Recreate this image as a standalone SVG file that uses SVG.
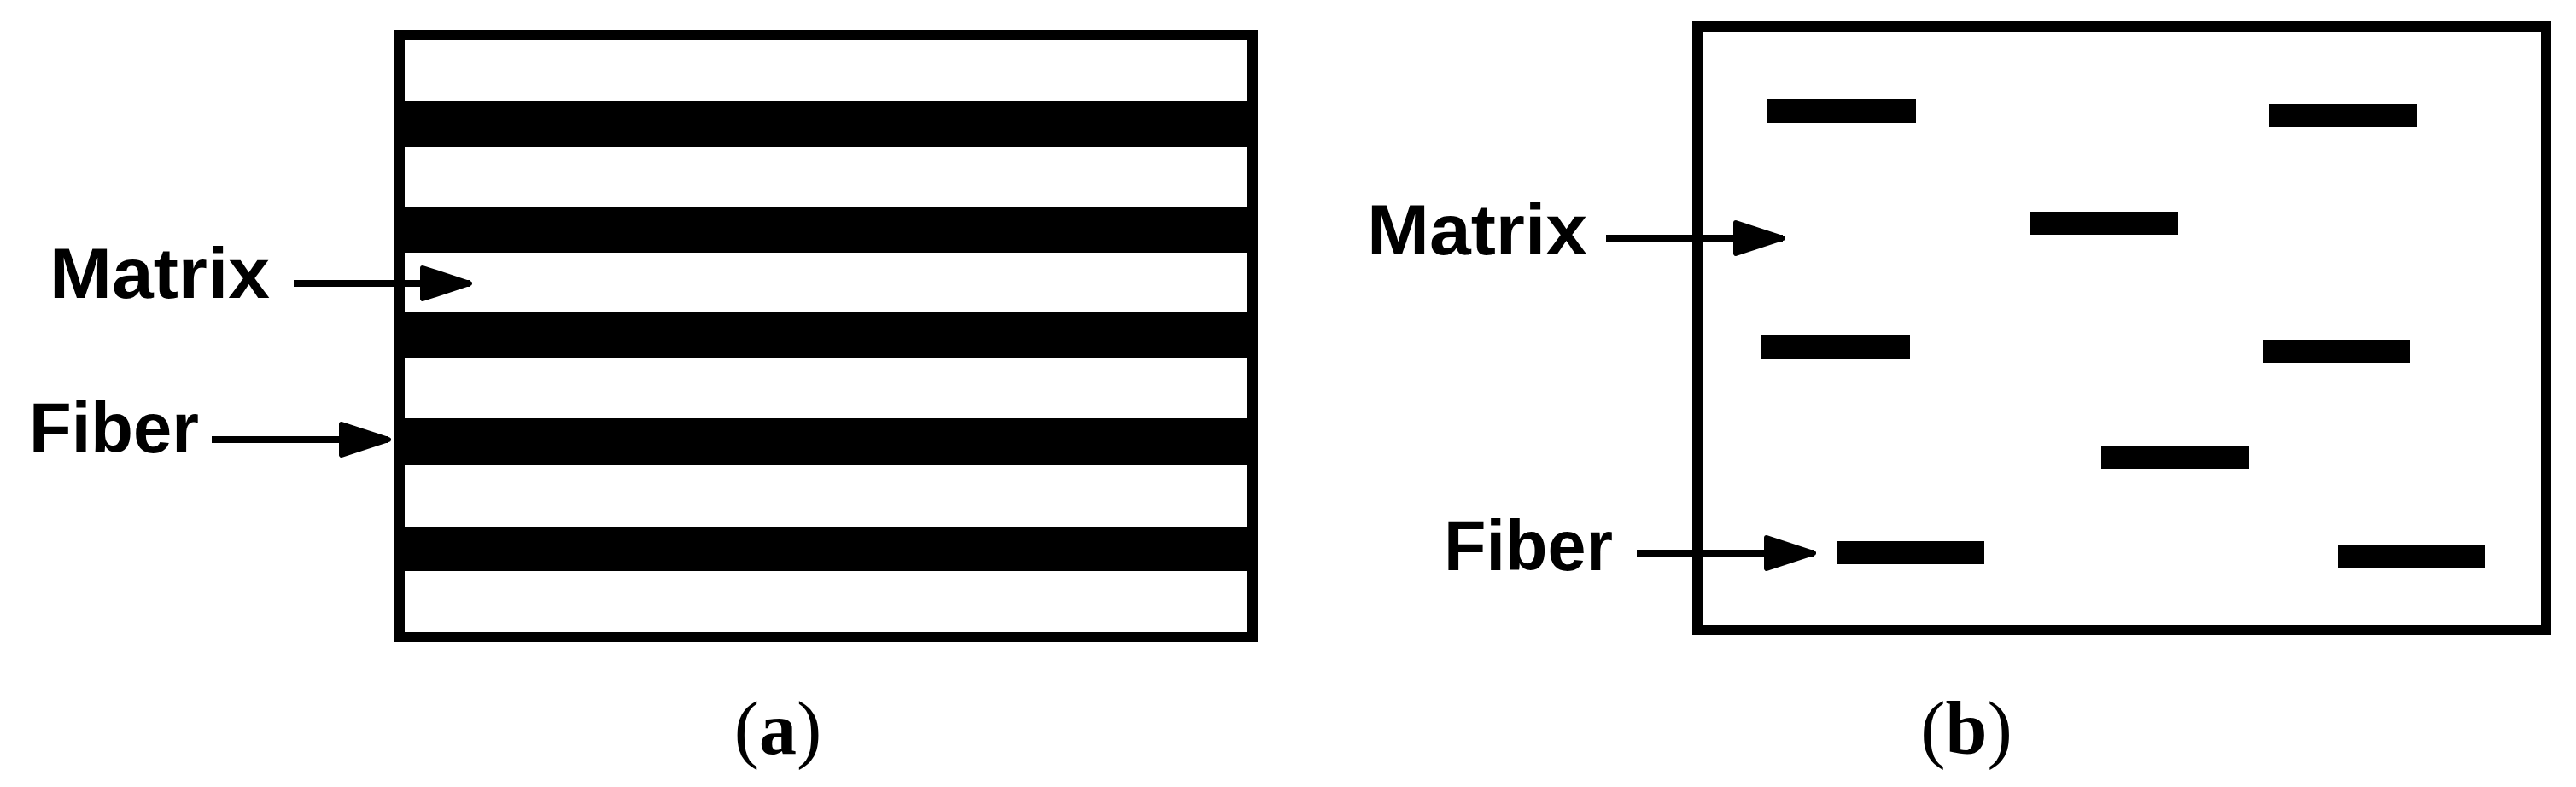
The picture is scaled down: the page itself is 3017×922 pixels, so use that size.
<svg xmlns="http://www.w3.org/2000/svg" width="3017" height="922" viewBox="0 0 3017 922">
<style>
.box{fill:#fff;stroke:#000;stroke-width:12}
.fib{fill:#000}
.lbl{font-family:"Liberation Sans",Arial,sans-serif;font-weight:bold;font-size:84px;fill:#000}
.cap{font-family:"Liberation Serif","Times New Roman",serif;font-size:88px;fill:#000}
.arr{stroke:#000;stroke-width:8;fill:none}
</style>
<defs>
<marker id="ah" viewBox="0 0 62 44" markerWidth="62" markerHeight="44" refX="59" refY="22" markerUnits="userSpaceOnUse" orient="auto">
<path d="M4,4 L59,22 L4,40 Z" fill="#000" stroke="#000" stroke-width="6" stroke-linejoin="round"/>
</marker>
</defs>
<rect width="3017" height="922" fill="#fff"/>
<g id="panel-a">
<rect class="box" x="468" y="41" width="999" height="705"/>
<g id="a-fibers">
<rect class="fib" x="474" y="118" width="987" height="54"/>
<rect class="fib" x="474" y="242" width="987" height="54"/>
<rect class="fib" x="474" y="366" width="987" height="53"/>
<rect class="fib" x="474" y="490" width="987" height="55"/>
<rect class="fib" x="474" y="617" width="987" height="52"/>
</g>
</g>
<g id="label-a-matrix"><text class="lbl" x="58" y="349" textLength="258" lengthAdjust="spacingAndGlyphs">Matrix</text></g>
<g id="label-a-fiber"><text class="lbl" x="34" y="530" textLength="199" lengthAdjust="spacingAndGlyphs">Fiber</text></g>
<g id="caption-a"><text class="cap" x="911" y="883" text-anchor="middle">(<tspan font-weight="bold">a</tspan>)</text></g>
<g id="panel-b">
<rect class="box" x="1988" y="31" width="994" height="707"/>
<g id="b-fibers">
<rect class="fib" x="2070" y="116" width="174" height="28"/>
<rect class="fib" x="2658" y="122" width="173" height="27"/>
<rect class="fib" x="2378" y="248" width="173" height="27"/>
<rect class="fib" x="2063" y="392" width="174" height="28"/>
<rect class="fib" x="2650" y="398" width="173" height="27"/>
<rect class="fib" x="2461" y="522" width="173" height="27"/>
<rect class="fib" x="2151" y="634" width="173" height="27"/>
<rect class="fib" x="2738" y="638" width="173" height="28"/>
</g>
</g>
<g id="label-b-matrix"><text class="lbl" x="1601" y="298" textLength="258" lengthAdjust="spacingAndGlyphs">Matrix</text></g>
<g id="label-b-fiber"><text class="lbl" x="1691" y="668" textLength="198" lengthAdjust="spacingAndGlyphs">Fiber</text></g>
<g id="caption-b"><text class="cap" x="2303" y="883" text-anchor="middle">(<tspan font-weight="bold">b</tspan>)</text></g>
<g id="connectors">
<line class="arr" x1="344" y1="332" x2="550" y2="332" marker-end="url(#ah)"/>
<line class="arr" x1="248" y1="515" x2="455" y2="515" marker-end="url(#ah)"/>
<line class="arr" x1="1881" y1="279" x2="2088" y2="279" marker-end="url(#ah)"/>
<line class="arr" x1="1917" y1="648" x2="2124" y2="648" marker-end="url(#ah)"/>
</g>
</svg>
